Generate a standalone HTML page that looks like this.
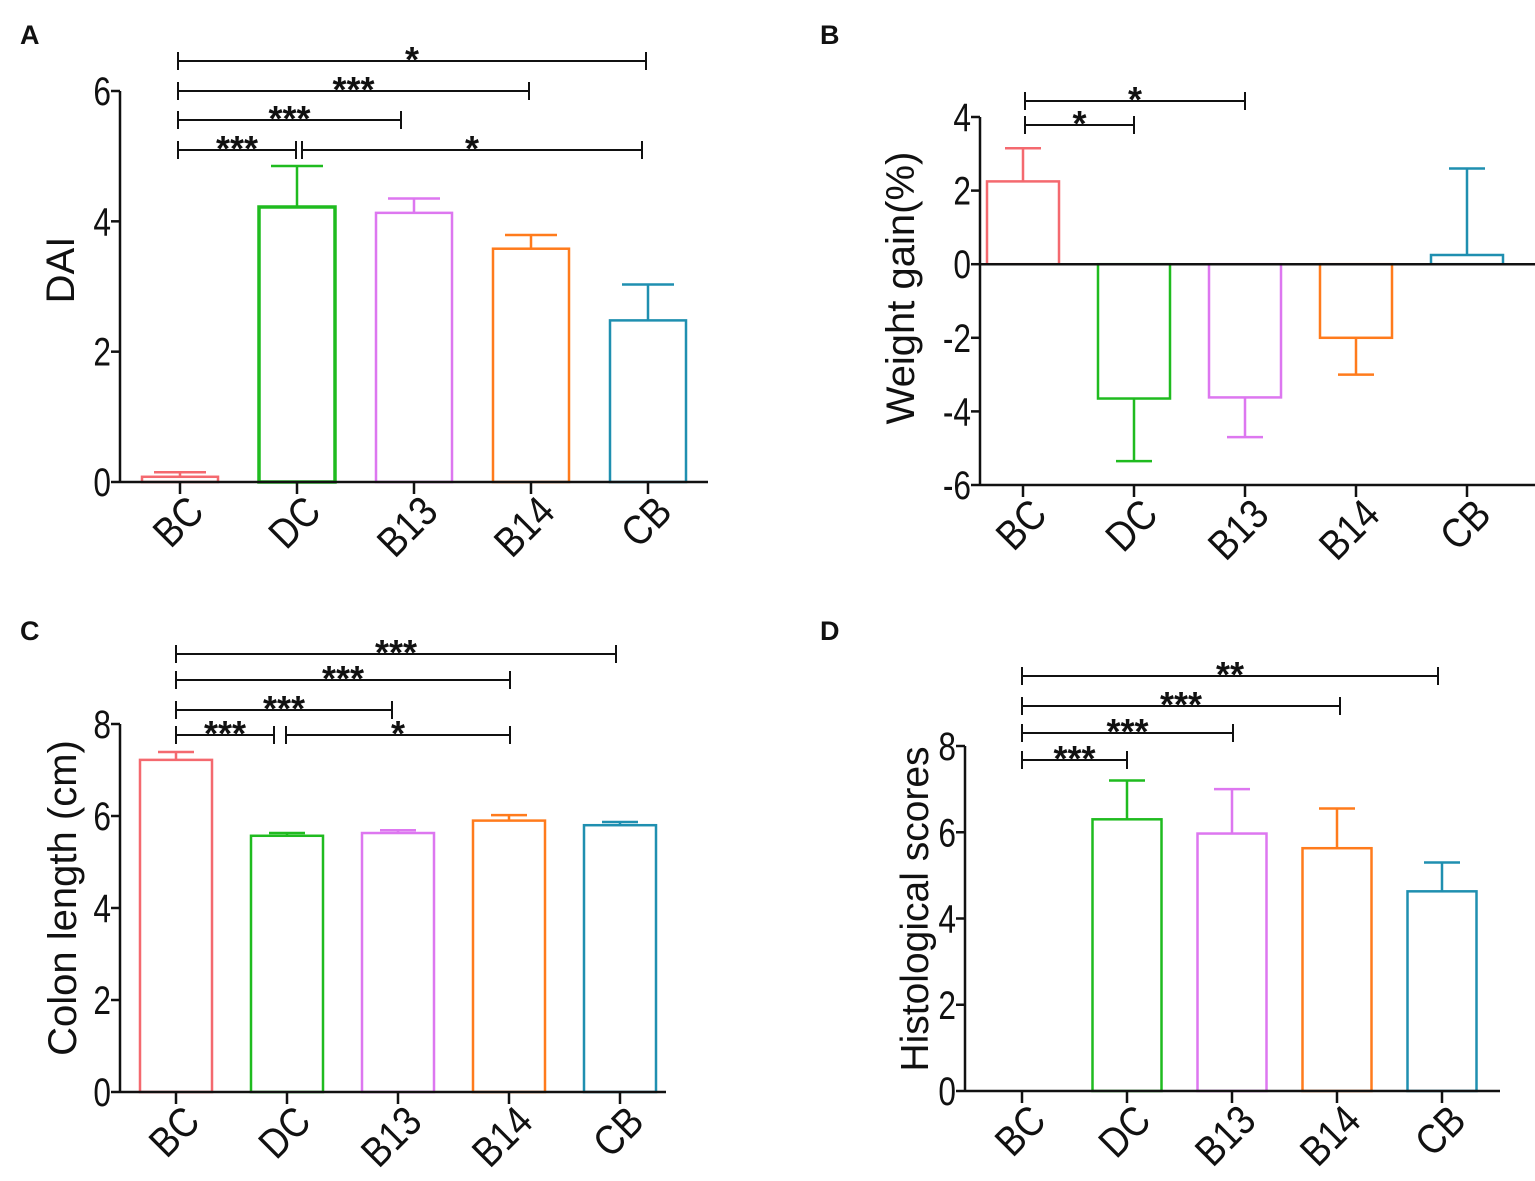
<!DOCTYPE html>
<html><head><meta charset="utf-8">
<style>
html,body{margin:0;padding:0;background:#fff;}
svg{display:block;font-family:"Liberation Sans",Arial,sans-serif;}
</style></head>
<body>
<svg id="fig" width="1535" height="1181" viewBox="0 0 1535 1181" xmlns="http://www.w3.org/2000/svg">
<rect width="1535" height="1181" fill="#fff"/>
</svg>
<script>
const categories = ["BC","DC","B13","B14","CB"];
const colors = ["#f4696f","#1fbb1f","#dd77f0","#ff7b1c","#1f8fb0"];
// Panel A: DAI
const valuesA = [0.08, 4.22, 4.13, 3.58, 2.48];
const errA    = [0.07, 0.63, 0.22, 0.21, 0.55];
const ticksA  = [0, 2, 4, 6];
// Panel B: weight gain
const valuesB = [2.25, -3.65, -3.62, -2.0, 0.25];
const errB    = [0.9, 1.7, 1.08, 1.0, 2.35];
const ticksB  = [4, 2, 0, -2, -4, -6];
// Panel C: colon length
const valuesC = [7.22, 5.57, 5.63, 5.9, 5.8];
const errC    = [0.17, 0.06, 0.06, 0.12, 0.07];
const ticksC  = [0, 2, 4, 6, 8];
// Panel D: histological scores
const valuesD = [0, 6.3, 5.97, 5.63, 4.63];
const errD    = [0, 0.9, 1.03, 0.92, 0.67];
const ticksD  = [0, 2, 4, 6, 8];
// significance brackets: [fromIndex, toIndex, label]
const sigA = [[0,4,"*"],[0,3,"***"],[0,2,"***"],[0,1,"***"],[1,4,"*"]];
const sigB = [[0,2,"*"],[0,1,"*"]];
const sigC = [[0,4,"***"],[0,3,"***"],[0,2,"***"],[0,1,"***"],[1,3,"*"]];
const sigD = [[0,4,"**"],[0,3,"***"],[0,2,"***"],[0,1,"***"]];

const NS = "http://www.w3.org/2000/svg";
const svg = document.getElementById("fig");
function mk(tag, attrs, parent, text){
  const e = document.createElementNS(NS, tag);
  for (const k in attrs) e.setAttribute(k, attrs[k]);
  if (text !== undefined) e.textContent = text;
  (parent || svg).appendChild(e);
  return e;
}

function panel(cfg){
  const g = mk("g", {});
  
  
  const y = v => cfg.y0 - (v - cfg.vmin) * (cfg.y0 - cfg.y1) / (cfg.vmax - cfg.vmin);
  const x = i => cfg.cx0 + i * cfg.step;
  const lt = mk("text", {x:cfg.letter[0], y:cfg.letter[1], "font-size":27, "font-weight":"bold", fill:"#111"}, g, cfg.letterText);
  
  
  const ya = mk("line", {x1:cfg.ax, y1:y(cfg.vmax), x2:cfg.ax, y2:y(cfg.vmin), stroke:"#111","stroke-width":2.5}, g);
  
  
  cfg.ticks.forEach(t => {
    mk("line", {x1:cfg.ax-9, y1:y(t), x2:cfg.ax, y2:y(t), stroke:"#111","stroke-width":2.5}, g);
    const tl = mk("text", {x:0, y:0, transform:`translate(${cfg.ax-9},${y(t)+14}) scale(0.88,1.12)`, "text-anchor":"end", "font-size":36, fill:"#111"}, g, String(t));
    
    
  });
  const yt = mk("text", {x:0, y:0, transform:`translate(${cfg.titleX},${cfg.titleY}) rotate(-90)`, "text-anchor":"middle", "font-size":cfg.titleSize, fill:"#111"}, g, cfg.title);
  
  
  const half = cfg.bw / 2;
  cfg.values.forEach((v, i) => {
    const cx = x(i);
    if (v !== 0) {
      const top = Math.min(y(v), y(0)), h = Math.abs(y(v) - y(0));
      const b = mk("rect", {x:cx-half, y:top, width:cfg.bw, height:h, fill:"none", stroke:colors[i], "stroke-width": i===1 && cfg.thickDC ? 3.5 : 2.5}, g);
      
      
    }
    const e = cfg.err[i];
    if (e > 0) {
      const dir = v < 0 ? -1 : 1;
      const ye = y(v + dir * e);
      const eb = mk("path", {d:`M${cx},${y(v)}V${ye}M${cx-cfg.cap},${ye}H${cx+cfg.cap}`, stroke:colors[i], "stroke-width":2.5, fill:"none"}, g);
      
      
    }
  });
  const xa = mk("line", {x1:cfg.ax, y1:y(cfg.axisV), x2:cfg.axEnd, y2:y(cfg.axisV), stroke:"#111","stroke-width":2.5}, g);
  
  
  if (cfg.vmin < 0) {
    const zl = mk("line", {x1:cfg.ax, y1:y(0), x2:cfg.axEnd, y2:y(0), stroke:"#111","stroke-width":2.5}, g);
    
    
  }
  categories.forEach((c, i) => {
    const ay = y(cfg.axisV);
    mk("line", {x1:x(i), y1:ay, x2:x(i), y2:ay+12, stroke:"#111","stroke-width":2.5}, g);
    const xl = mk("text", {x:0, y:0, transform:`translate(${x(i)+26},${ay+32}) rotate(-45) scale(0.95,1.1)`, "text-anchor":"end", "font-size":38, fill:"#111"}, g, c);
    
    
  });
  cfg.sig.forEach((s, k) => {
    const yy = cfg.sigY[k];
    let x1 = x(s[0]), x2 = x(s[1]);
    if (cfg.sigX && cfg.sigX[k]) { x1 = cfg.sigX[k][0]; x2 = cfg.sigX[k][1]; }
    const br = mk("path", {d:`M${x1},${yy-9}V${yy+9}M${x1},${yy}H${x2}M${x2},${yy-9}V${yy+9}`, stroke:"#111","stroke-width":2, fill:"none"}, g);
    
    
    const st = mk("text", {x:(x1+x2)/2, y:yy+11, "text-anchor":"middle", "font-size":36, "font-weight":"bold", fill:"#111"}, g, s[2]);
    
    
  });
}

panel({name:"panel-a-dai", letterText:"A", letter:[20,44], values:valuesA, err:errA, ticks:ticksA,
  vmin:0, vmax:6, y0:482, y1:91, ax:120, axEnd:708, axisV:0, cx0:180, step:117, bw:76, cap:26,
  title:"DAI", titleX:74, titleY:270, titleSize:40, thickDC:true,
  sig:sigA, sigY:[61,91,120,150,150], sigX:[[178,646],[178,529],[178,401],[178,296],[302,642]]});
panel({name:"panel-b-weight-gain", letterText:"B", letter:[820,44], values:valuesB, err:errB, ticks:ticksB,
  vmin:-6, vmax:4, y0:485, y1:117, ax:980, axEnd:1535, axisV:-6, cx0:1023, step:111, bw:72, cap:18,
  title:"Weight gain(%)", titleX:914, titleY:288, titleSize:40,
  sig:sigB, sigY:[101,125], sigX:[[1025,1245],[1025,1134]]});
panel({name:"panel-c-colon-length", letterText:"C", letter:[20,640], values:valuesC, err:errC, ticks:ticksC,
  vmin:0, vmax:8, y0:1092, y1:724, ax:120, axEnd:666, axisV:0, cx0:176, step:111, bw:72, cap:18,
  title:"Colon length (cm)", titleX:76, titleY:898, titleSize:40,
  sig:sigC, sigY:[654,680,710,735,735], sigX:[[176,616],[176,510],[176,392],[176,274],[286,510]]});
panel({name:"panel-d-histological-scores", letterText:"D", letter:[820,640], values:valuesD, err:errD, ticks:ticksD,
  vmin:0, vmax:8, y0:1091, y1:746, ax:965, axEnd:1500, axisV:0, cx0:1022, step:105, bw:69, cap:18,
  title:"Histological scores", titleX:928, titleY:909, titleSize:39,
  sig:sigD, sigY:[676,706,733,760], sigX:[[1022,1438],[1022,1340],[1022,1233],[1022,1127]]});
</script>
</body></html>
